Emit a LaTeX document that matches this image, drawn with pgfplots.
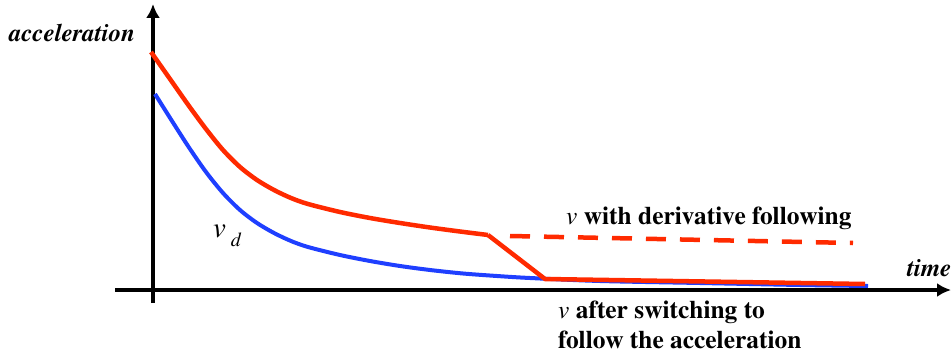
\documentclass[border=0pt]{standalone}
\usepackage[T1]{fontenc}
\usepackage{times}
\usepackage{pgfplots}
\pgfplotsset{compat=1.18}
\usetikzlibrary{arrows.meta}
\definecolor{cred}{HTML}{FF2A00}
\definecolor{cblue}{HTML}{1F3FFF}
\begin{document}
\begin{tikzpicture}
\begin{axis}[
  scale only axis, width=951bp, height=357bp,
  xmin=0, xmax=951, ymin=0, ymax=357, y dir=reverse,
  hide axis, clip=false,
]
% axes
\addplot[black, line width=3.5bp, -{Latex[length=14bp,width=14bp]}] coordinates {(153,303) (153,4)};
\addplot[black, line width=3.5bp, -{Latex[length=14bp,width=14bp]}] coordinates {(115,290) (951,290)};
% blue v_d
\addplot[cblue, line width=4bp, smooth] coordinates {
(155,94) (172,121) (189,147.5) (206,172) (223,193) (240,210) (257,223) (274,233) (291,241) (308,247) (340,255) (370,261) (400,266) (430,270) (463,273.5) (497,276) (530,278) (600,281) (700,283) (800,285) (868,286)};
% red curve
\addplot[cred, line width=4.5bp, smooth] coordinates {
(151,52) (170,79) (189,106) (206,129) (223,150) (240,167) (257,180) (274,190) (291,198) (308,204) (340,212) (370,218) (400,223) (430,227.5) (460,231.5) (488,235)};
\addplot[cred, line width=4.5bp] coordinates {(488,235) (545,279) (865,284)};
\addplot[cred, line width=4.5bp, dash pattern=on 20bp off 14bp] coordinates {(510,236) (853,243)};
% labels
\node[font=\fontsize{25}{30}\selectfont\bfseries\itshape, anchor=west, inner sep=0pt] at (axis cs:9,33) {acceleration};
\node[font=\fontsize{25}{30}\selectfont\bfseries\itshape, anchor=west, inner sep=0pt] at (axis cs:907,268) {time};
\node[anchor=west, inner sep=0pt] at (axis cs:213,236) {\fontsize{29}{32}\selectfont\textit{v}\,\raisebox{-0.3em}{\fontsize{20}{22}\selectfont\textit{d}}};
\node[font=\fontsize{25.5}{30}\selectfont, anchor=west, inner sep=0pt] at (axis cs:566,218) {\textit{v} \textbf{with derivative following}};
\node[font=\fontsize{25.5}{30}\selectfont, anchor=north west, align=left, inner sep=0pt] at (axis cs:558,301) {\textit{v} \textbf{after switching to}\\\textbf{follow the acceleration}};
\end{axis}
\pgfresetboundingbox
\path (current axis.south west) rectangle (current axis.north east);
\end{tikzpicture}
\end{document}
